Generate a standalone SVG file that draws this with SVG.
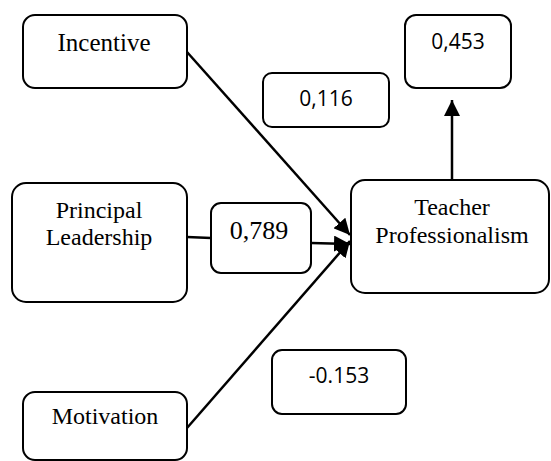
<svg xmlns="http://www.w3.org/2000/svg" width="551" height="461" viewBox="0 0 551 461">
<style>
.box{fill:#fff;stroke:#000;stroke-width:2}
.serif{font-family:"Liberation Serif","Times New Roman",serif;font-size:24px;fill:#000;text-anchor:middle}
.sans{font-family:"Open Sans","Liberation Sans",sans-serif;font-size:21px;fill:#000;text-anchor:middle}
.edge{stroke:#000;stroke-width:2.5;fill:none}
</style>
<defs>
<marker id="arr" markerUnits="userSpaceOnUse" markerWidth="16" markerHeight="16" refX="16" refY="8" orient="auto" viewBox="0 0 16 16">
<path d="M0,0 L16,8 L0,16 z" fill="#000"/>
</marker>
</defs>
<rect width="551" height="461" fill="#fff"/>
<g id="connectors">
<line class="edge" x1="187" y1="52" x2="350" y2="235" marker-end="url(#arr)"/>
<line class="edge" x1="187" y1="237" x2="211" y2="238"/>
<line class="edge" x1="311" y1="243" x2="350" y2="244" marker-end="url(#arr)"/>
<line class="edge" x1="187" y1="428" x2="350" y2="241" marker-end="url(#arr)"/>
<line class="edge" x1="452" y1="180" x2="452" y2="100" marker-end="url(#arr)"/>
</g>
<g id="incentive">
<rect class="box" x="23" y="15" width="164" height="73" rx="12"/>
<text class="serif" x="104" y="51" style="font-size:25px">Incentive</text>
</g>
<g id="principal-leadership">
<rect class="box" x="12" y="183" width="175" height="119" rx="14"/>
<text class="serif" x="99" y="218">Principal</text>
<text class="serif" x="99" y="245">Leadership</text>
</g>
<g id="motivation">
<rect class="box" x="23" y="392" width="164" height="68" rx="12"/>
<text class="serif" x="105" y="424">Motivation</text>
</g>
<g id="teacher-professionalism">
<rect class="box" x="351" y="180" width="198" height="113" rx="14"/>
<text class="serif" x="452" y="215">Teacher</text>
<text class="serif" x="452" y="243">Professionalism</text>
</g>
<g id="coef-0789">
<rect class="box" x="211" y="203" width="100" height="70" rx="10"/>
<text class="serif" x="259" y="239" style="font-size:26px">0,789</text>
</g>
<g id="coef-0116">
<rect class="box" x="263" y="73" width="126" height="54" rx="9"/>
<text class="sans" x="326" y="106">0,116</text>
</g>
<g id="coef-0453">
<rect class="box" x="405" y="15" width="106" height="73" rx="11"/>
<text class="sans" x="458" y="49">0,453</text>
</g>
<g id="coef-neg0153">
<rect class="box" x="272" y="350" width="134" height="64" rx="10"/>
<text class="sans" x="339" y="383">-0.153</text>
</g>
</svg>
